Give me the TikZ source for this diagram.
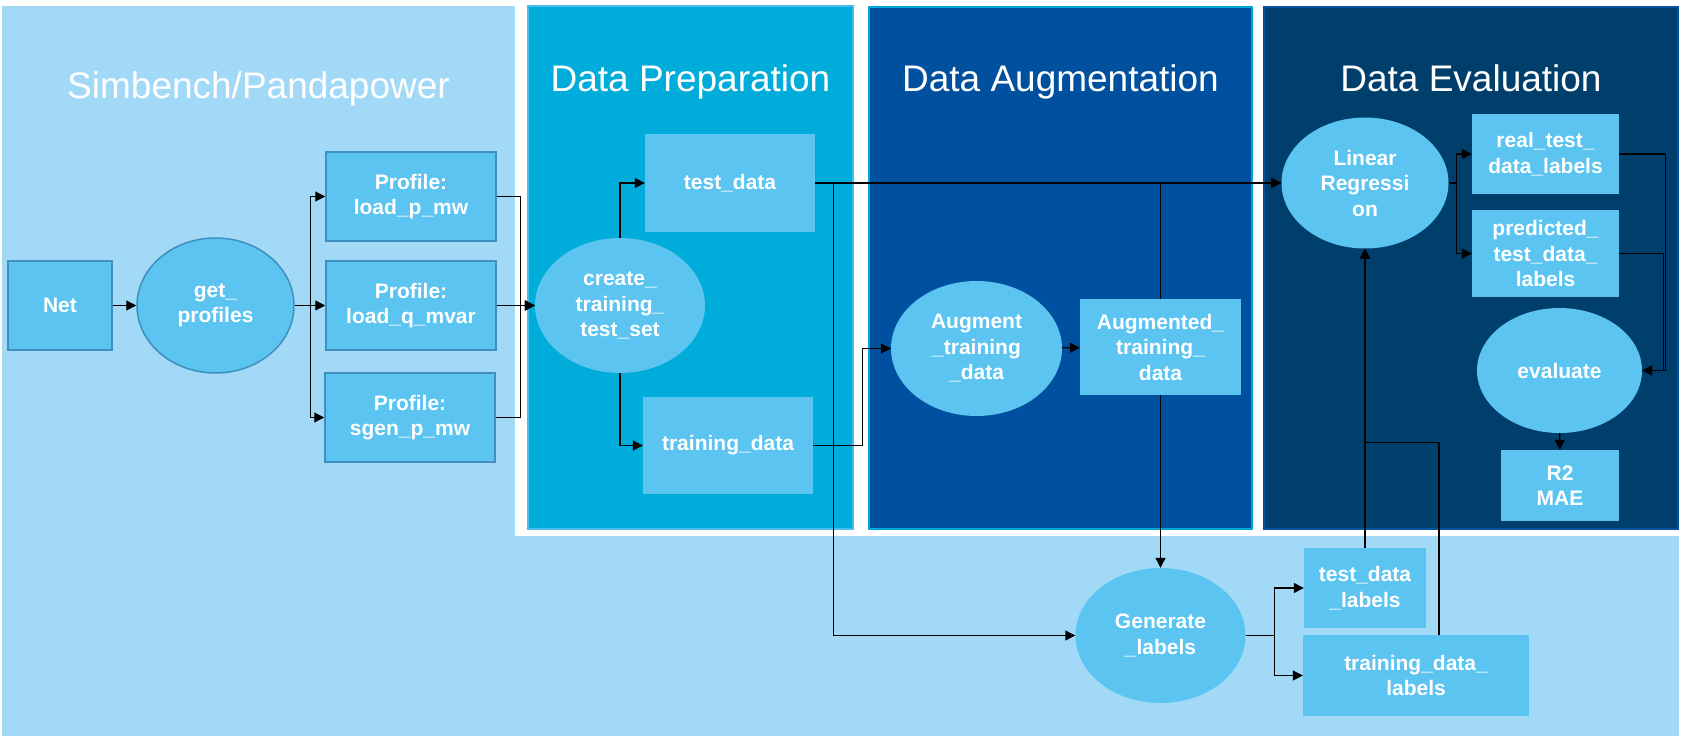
\documentclass[tikz,border=0pt]{standalone}
\usepackage{fontspec}
\setmainfont{Liberation Sans}
\usetikzlibrary{shapes,arrows.meta,positioning,calc}

\definecolor{bglight}{RGB}{162,217,247}
\definecolor{nodefill}{RGB}{91,196,241}
\definecolor{nodeedge}{RGB}{64,143,191}
\definecolor{prepfill}{RGB}{0,172,218}
\definecolor{prepedge}{RGB}{70,190,235}
\definecolor{augfill}{RGB}{0,80,160}
\definecolor{augedge}{RGB}{0,166,214}
\definecolor{evalfill}{RGB}{0,63,108}
\definecolor{evaledge}{RGB}{0,80,160}

\tikzset{
    box/.style={rectangle, fill=nodefill, text=white, align=center, inner sep=0pt,
        font=\bfseries\fontsize{21pt}{25.5pt}\selectfont},
    blob/.style={ellipse, fill=nodefill, text=white, align=center, inner sep=0pt,
        font=\bfseries\fontsize{21pt}{25.5pt}\selectfont},
    edged/.style={draw=nodeedge, line width=1.5pt},
    title/.style={text=white, anchor=base, font=\fontsize{37pt}{44pt}\selectfont},
    arr/.style={-{Triangle[length=10pt,width=10pt]}, line width=1.2pt},
    wire/.style={line width=1.2pt}
}

\begin{document}
\begin{tikzpicture}[x=1pt,y=-1pt]
        \useasboundingbox (0,0) rectangle (1683,741);

        % Background and panels
        \fill[bglight] (2,6) rectangle (1679,736);
        \fill[white] (515,0) rectangle (1683,536);
        \draw[prepedge, fill=prepfill, line width=1.5pt] (528,6) rectangle (853,529);
        \draw[augedge, fill=augfill, line width=2pt] (869,7) rectangle (1252,529);
        \draw[evaledge, fill=evalfill, line width=2pt] (1264,7) rectangle (1678,529);

        % Titles
        \node[title] (simtitle) at (258.5,99) {Simbench/Pandapower};
        \node[title] (preptitle) at (690.5,92) {Data Preparation};
        \node[title] (augtitle) at (1060.5,92) {Data Augmentation};
        \node[title] (evaltitle) at (1471,92) {Data Evaluation};

        % Simbench/Pandapower
        \node[box, edged, minimum width=104pt, minimum height=89pt] (net) at (60,305.5) {Net};
        \node[blob, edged, minimum width=157pt, minimum height=135pt] (getprof) at (215.5,305.5) {get\_\\profiles};
        \node[box, edged, minimum width=170pt, minimum height=89pt] (profp) at (411,196.5) {Profile:\\load\_p\_mw};
        \node[box, edged, minimum width=170pt, minimum height=89pt] (profq) at (411,305.5) {Profile:\\load\_q\_mvar};
        \node[box, edged, minimum width=170pt, minimum height=89pt] (profs) at (410,417.5) {Profile:\\sgen\_p\_mw};

        % Data Preparation
        \node[blob, minimum width=170pt, minimum height=135pt] (create) at (620,305.5) {create\_\\training\_\\test\_set};
        \node[box, minimum width=170pt, minimum height=97pt] (testdata) at (730,183) {test\_data};
        \node[box, minimum width=170pt, minimum height=97pt] (traindata) at (728,445.5) {training\_data};

        % Data Augmentation
        \node[blob, minimum width=171pt, minimum height=135pt] (augment) at (976.5,348.5) {Augment\\\_training\\\_data};
        \node[box, minimum width=161pt, minimum height=96pt] (augmented) at (1160.5,347) {Augmented\_\\training\_\\data};

        % Data Evaluation
        \node[blob, minimum width=167pt, minimum height=131pt] (linreg) at (1365,183) {Linear\\Regressi\\on};
        \node[box, minimum width=147pt, minimum height=80pt] (realtest) at (1545.5,154) {real\_test\_\\data\_labels};
        \node[box, minimum width=147pt, minimum height=87pt] (predtest) at (1545.5,253.5) {predicted\_\\test\_data\_\\labels};
        \node[blob, minimum width=165pt, minimum height=125pt] (evaluate) at (1559.5,370.5) {evaluate};
        \node[box, minimum width=118pt, minimum height=71pt] (metrics) at (1560,485.5) {R2\\MAE};

        % Labels
        \node[blob, minimum width=170pt, minimum height=135pt] (genlabels) at (1160.5,635.5) {Generate\\\_labels};
        \node[box, minimum width=122pt, minimum height=80pt] (testlabels) at (1365,588) {test\_data\\\_labels};
        \node[box, minimum width=226pt, minimum height=81pt] (trainlabels) at (1416,675.5) {training\_data\_\\labels};

        % Connectors
        \draw[arr] (net) -- (getprof);
        \draw[arr] (getprof.east) -- ++(16,0) |- (profp.west);
        \draw[arr] (getprof.east) -- (profq.west);
        \draw[arr] (getprof.east) -- ++(16,0) |- (profs.west);
        \draw[arr] (profp.east) -- ++(24,0) |- (create.west);
        \draw[arr] (profq.east) -- (create.west);
        \draw[arr] (profs.east) -- ++(25,0) |- (create.west);

        \draw[arr] (create.north) |- (testdata.west);
        \draw[arr] (create.south) |- (traindata.west);
        \draw[arr] (testdata.east) -- (linreg.west);
        \draw[arr] (testdata.east) -- ++(18,0) |- (genlabels.west);
        \draw[arr] (traindata.east) -- ++(49,0) |- (augment.west);

        \draw[arr] (augment) -- (augmented);
        \draw[arr] (augmented.north) |- (linreg.west);
        \draw[arr] (augmented.south) -- (genlabels.north);

        \draw[arr] (genlabels.east) -- ++(29,0) |- (testlabels.west);
        \draw[arr] (genlabels.east) -- ++(29,0) |- (trainlabels.west);
        \draw[arr] (testlabels.north) -- (linreg.south);
        \draw[arr] ([xshift=23pt]trainlabels.north) -- ++(0,-192) -| (linreg.south);

        \draw[arr] (linreg.east) -- ++(8,0) |- (realtest.west);
        \draw[arr] (linreg.east) -- ++(8,0) |- (predtest.west);
        \draw[arr] (realtest.east) -- ++(46,0) |- (evaluate.east);
        \draw[arr] (predtest.east) -- ++(44,0) |- (evaluate.east);
        \draw[arr] (evaluate) -- (metrics);

    \end{tikzpicture}
\end{document}
